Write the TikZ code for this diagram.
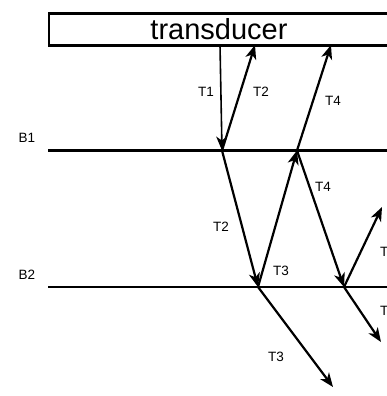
\documentclass[tikz,border=0pt]{standalone}
\usepackage{fontspec}
\setmainfont{Liberation Sans}
\usetikzlibrary{arrows.meta}
\begin{document}
\begin{tikzpicture}[x=1pt,y=-1pt,
  ray/.style={line width=2.2pt,-{Stealth[length=14pt,width=11pt,inset=4pt]}},
  boundary/.style={line width=2.2pt},
  lbl/.style={font=\fontsize{13.5}{13.5}\selectfont,inner sep=0pt}]
\useasboundingbox (0,0) rectangle (387,396);
% transducer
\node[draw,line width=2.4pt,minimum width=350pt,minimum height=32pt,anchor=north west,inner sep=0pt] (tr) at (48,12.5) {};
\node[font=\fontsize{29}{29}\selectfont,inner sep=0pt] (trtext) at (219,29) {transducer};
% layer boundaries
\coordinate (b1l) at (48,150.5);
\coordinate (b1r) at (390,150.5);
\coordinate (b2l) at (48,287);
\coordinate (b2r) at (390,287);
\draw[boundary] (b1l) -- (b1r);
\draw[boundary] (b2l) -- (b2r);
\node[lbl] (B1) at (27,138) {B1};
\node[lbl] (B2) at (27,275) {B2};
% ray points
\coordinate (s0) at (220,45);
\coordinate (a1) at (222,150.5);
\coordinate (e1) at (255,45);
\coordinate (a2) at (258,287);
\coordinate (a3) at (297,150.5);
\coordinate (e2) at (331,45);
\coordinate (a4) at (344,287);
\coordinate (e3) at (333,387);
\coordinate (e4) at (382,207);
\coordinate (e5) at (381,342);
% rays
\draw[ray,line width=1.6pt] (s0) -- (a1);
\draw[ray] (a1) -- (e1);
\draw[ray] (a1) -- (a2);
\draw[ray] (a2) -- (a3);
\draw[ray] (a3) -- (e2);
\draw[ray] (a3) -- (a4);
\draw[ray] (a2) -- (e3);
\draw[ray] (a4) -- (e4);
\draw[ray] (a4) -- (e5);
% labels
\node[lbl] (l1) at (206,92) {T1};
\node[lbl] (l2) at (261,92) {T2};
\node[lbl] (l3) at (333,101) {T4};
\node[lbl] (l4) at (323,187) {T4};
\node[lbl] (l5) at (221,227) {T2};
\node[lbl] (l6) at (281,271) {T3};
\node[lbl] (l7) at (276,357) {T3};
\node[lbl,anchor=west] (l8) at (380,252) {T};
\node[lbl,anchor=west] (l9) at (380,311) {T};
\end{tikzpicture}
\end{document}
